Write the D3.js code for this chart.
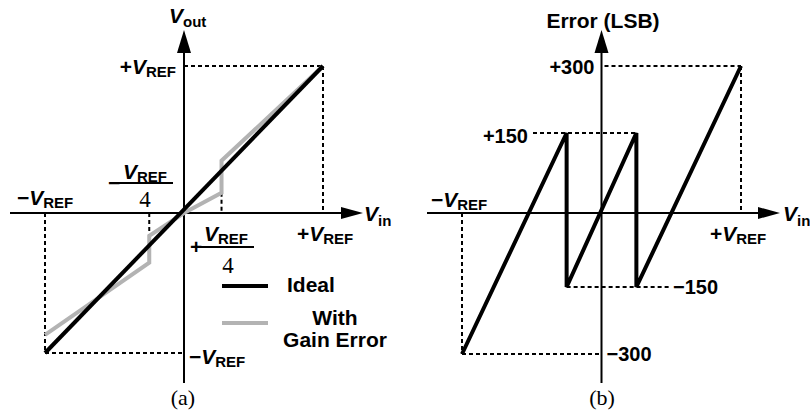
<!DOCTYPE html>
<html>
<head>
<meta charset="utf-8">
<script src="https://cdn.jsdelivr.net/npm/d3@7"></script>
<style>
  body { margin: 0; background: #fff; }
  svg { display: block; }
</style>
</head>
<body>
<svg id="chart" width="810" height="416"></svg>
<script>
// (a) ADC transfer curves, normalised to VREF
const idealVin  = [-1, 1];
const idealVout = [-1, 1];
const gainVin   = [-1, -0.25, -0.25, 0, 0.27, 0.27, 1];
const gainVout  = [-0.87, -0.355, -0.163, 0, 0.137, 0.356, 1];

// (b) resulting error in LSB versus input
const errVin = [-1, -0.25, -0.25, 0.25, 0.25, 1];
const errLsb = [-300, 150, -150, 150, -150, 300];
const errTicks = [300, 150, -150, -300];
const errTickLabels = ["+300", "+150", "\u2212150", "\u2212300"];

const legendLabels = ["Ideal", "With", "Gain Error"];

const SANS = "'Liberation Sans', Arial, Helvetica, sans-serif";
const SERIF = "'Liberation Serif', 'Times New Roman', serif";
const GRAY = "#b3b3b3";

const svg = d3.select("#chart");
svg.append("rect").attr("width", 810).attr("height", 416).attr("fill", "#fff");

// scales
const xA = d3.scaleLinear().domain([-1, 1]).range([45, 323]);
const yA = d3.scaleLinear().domain([-1, 0, 1]).range([353, 213, 66]);
const xB = d3.scaleLinear().domain([-1, 1]).range([462, 741]);
const yB = d3.scaleLinear().domain([-300, -150, 0, 150, 300]).range([354, 287, 213, 133, 66]);

// helpers
function dashed(g, x1, y1, x2, y2) {
  g.append("line").attr("x1", x1).attr("y1", y1).attr("x2", x2).attr("y2", y2)
    .attr("stroke", "#000").attr("stroke-width", 2).attr("stroke-dasharray", "4,3");
}

function axes(g, x0, y0, left, right, top, bottom) {
  g.append("line").attr("x1", left).attr("y1", y0).attr("x2", right - 20).attr("y2", y0)
    .attr("stroke", "#000").attr("stroke-width", 2);
  g.append("path").attr("d", `M${right - 22},${y0 - 6}L${right},${y0}L${right - 22},${y0 + 6}Z`).attr("fill", "#000");
  g.append("line").attr("x1", x0).attr("y1", bottom).attr("x2", x0).attr("y2", top + 20)
    .attr("stroke", "#000").attr("stroke-width", 2);
  g.append("path").attr("d", `M${x0 - 7},${top + 23}L${x0},${top}L${x0 + 7},${top + 23}Z`).attr("fill", "#000");
}

// text with italic V and a smaller subscript
function vText(g, x, y, prefix, sub, anchor) {
  const t = g.append("text").attr("x", x).attr("y", y)
    .attr("font-family", SANS).attr("font-weight", "bold").attr("font-size", 21)
    .attr("text-anchor", anchor || "start");
  if (prefix) t.append("tspan").text(prefix);
  t.append("tspan").attr("font-style", "italic").text("V");
  t.append("tspan").attr("font-size", 15).attr("dy", 3).text(sub);
  return t;
}

function plainText(g, x, y, str, size, anchor, family, weight) {
  return g.append("text").attr("x", x).attr("y", y)
    .attr("font-family", family || SANS).attr("font-weight", weight || "bold")
    .attr("font-size", size).attr("text-anchor", anchor || "start").text(str);
}

const line = (xs, ys, sx, sy) => d3.line().x(d => sx(d[0])).y(d => sy(d[1]))(xs.map((v, i) => [v, ys[i]]));

// ---------- panel (a) ----------
const gA = svg.append("g");
const ax0 = xA(0), ay0 = yA(0);

// guide lines
dashed(gA, ax0, yA(1), xA(1), yA(1));
dashed(gA, xA(1), yA(1), xA(1), ay0);
dashed(gA, xA(-1), ay0, xA(-1), yA(-1));
dashed(gA, xA(-1), yA(-1), ax0, yA(-1));
dashed(gA, xA(gainVin[4]), yA(gainVout[4]), xA(gainVin[4]), ay0);
dashed(gA, xA(gainVin[1]), ay0, xA(gainVin[1]), yA(gainVout[2]));

axes(gA, ax0, ay0, 10, 363, 30, 383);

gA.append("path").attr("d", line(gainVin, gainVout, xA, yA))
  .attr("fill", "none").attr("stroke", GRAY).attr("stroke-width", 4);
gA.append("path").attr("d", line(idealVin, idealVout, xA, yA))
  .attr("fill", "none").attr("stroke", "#000").attr("stroke-width", 4);

// labels
vText(gA, 169, 23, "", "out").select("tspan:last-child").attr("dy", 4);
vText(gA, 176, 74, "+", "REF", "end");
vText(gA, 17, 205, "\u2212", "REF");
vText(gA, 297, 241, "+", "REF");
vText(gA, 189, 364, "\u2212", "REF");
vText(gA, 364, 221, "", "in").select("tspan:last-child").attr("dy", 5);

// -VREF/4 fraction
plainText(gA, 108, 190, "\u2212", 21);
gA.append("line").attr("x1", 118).attr("x2", 173).attr("y1", 183).attr("y2", 183)
  .attr("stroke", "#000").attr("stroke-width", 2);
vText(gA, 123, 179, "", "REF");
plainText(gA, 145, 207, "4", 23, "middle", SERIF, "normal");

// +VREF/4 fraction
plainText(gA, 190, 254, "+", 21);
gA.append("line").attr("x1", 200).attr("x2", 254).attr("y1", 247).attr("y2", 247)
  .attr("stroke", "#000").attr("stroke-width", 2);
vText(gA, 204, 241, "", "REF");
plainText(gA, 228, 273, "4", 23, "middle", SERIF, "normal");

// legend
gA.append("line").attr("x1", 222).attr("x2", 268).attr("y1", 286).attr("y2", 286)
  .attr("stroke", "#000").attr("stroke-width", 4);
gA.append("line").attr("x1", 222).attr("x2", 268).attr("y1", 323).attr("y2", 323)
  .attr("stroke", GRAY).attr("stroke-width", 4);
plainText(gA, 287, 292, legendLabels[0], 21);
plainText(gA, 335, 325, legendLabels[1], 21, "middle");
plainText(gA, 335, 347, legendLabels[2], 21, "middle");

plainText(gA, 183, 405, "(a)", 22, "middle", SERIF, "normal");

// ---------- panel (b) ----------
const gB = svg.append("g");
const bx0 = xB(0), by0 = yB(0);

dashed(gB, bx0 + 3, yB(300), xB(1), yB(300));
dashed(gB, xB(1), yB(300), xB(1), by0);
dashed(gB, 533, yB(150), xB(0.25), yB(150));
dashed(gB, xB(-0.25), yB(-150), 670, yB(-150));
dashed(gB, xB(-1), by0, xB(-1), yB(-300));
dashed(gB, xB(-1), yB(-300), bx0, yB(-300));

axes(gB, bx0, by0, 427, 780, 30, 383);

gB.append("path").attr("d", line(errVin, errLsb, xB, yB))
  .attr("fill", "none").attr("stroke", "#000").attr("stroke-width", 4)
  .attr("stroke-linejoin", "miter").attr("stroke-miterlimit", 2);

plainText(gB, 603, 28, "Error (LSB)", 21, "middle");
vText(gB, 783, 221, "", "in").select("tspan:last-child").attr("dy", 5);
vText(gB, 431, 207, "\u2212", "REF");
vText(gB, 710, 241, "+", "REF");

// tick labels on the error axis
const tickPos = [
  { x: bx0 - 7, dy: 8, anchor: "end" },
  { x: 528, dy: 10, anchor: "end" },
  { x: 673, dy: 7, anchor: "start" },
  { x: bx0 + 5, dy: 7, anchor: "start" }
];
errTicks.forEach((v, i) => {
  plainText(gB, tickPos[i].x, yB(v) + tickPos[i].dy, errTickLabels[i], 20, tickPos[i].anchor);
});

plainText(gB, 602, 405, "(b)", 22, "middle", SERIF, "normal");
</script>
</body>
</html>
